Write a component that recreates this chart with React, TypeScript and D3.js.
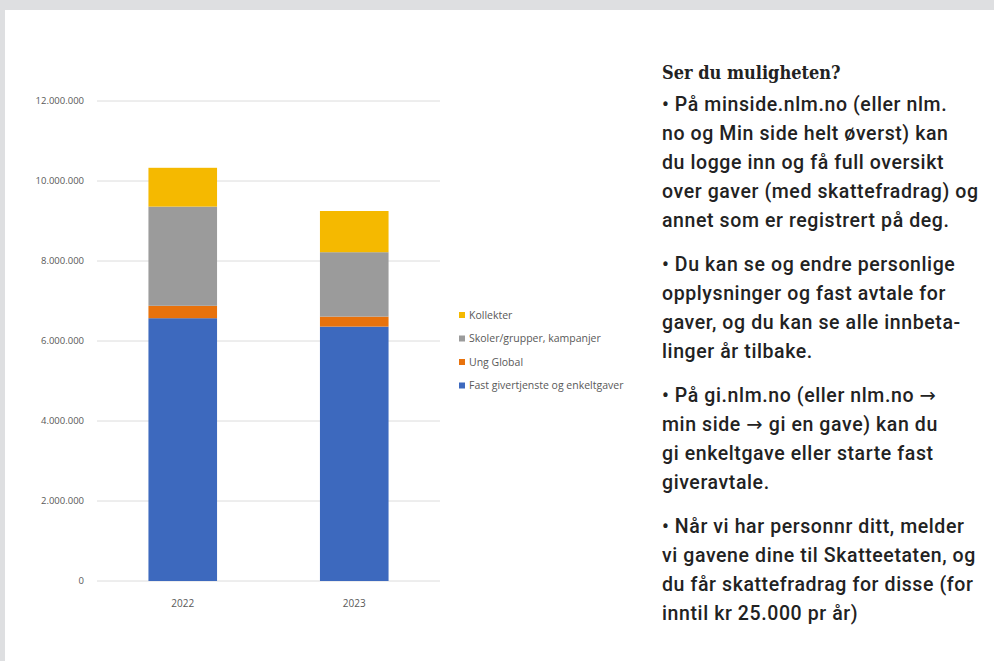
import React from 'react';
import * as d3 from 'd3';

// data (NOK)
const years = ['2022', '2023'];
const series = ['Fast givertjenste og enkeltgaver', 'Ung Global', 'Skoler/grupper, kampanjer', 'Kollekter'];
const fastGaver = [6570000, 6360000];
const ungGlobal = [310000, 250000];
const skoler = [2480000, 1610000];
const kollekter = [970000, 1030000];
const yTicks = [0, 2000000, 4000000, 6000000, 8000000, 10000000, 12000000];
const colors = ['#3D69BE', '#E8720C', '#9B9B9B', '#F5B900'];

const title = 'Ser du muligheten?';
const paragraphs = [
  ['• På minside.nlm.no (eller nlm.', 'no og Min side helt øverst) kan', 'du logge inn og få full oversikt', 'over gaver (med skattefradrag) og', 'annet som er registrert på deg.'],
  ['• Du kan se og endre personlige', 'opplysninger og fast avtale for', 'gaver, og du kan se alle innbeta-', 'linger år tilbake.'],
  ['• På gi.nlm.no (eller nlm.no →', 'min side → gi en gave) kan du', 'gi enkeltgave eller starte fast', 'giveravtale.'],
  ['• Når vi har personnr ditt, melder', 'vi gavene dine til Skatteetaten, og', 'du får skattefradrag for disse (for', 'inntil kr 25.000 pr år)'],
];

const W = 994;
const H = 661;
const plot = { left: 97, right: 440, top: 101, bottom: 581 };

// split a line so arrows get a font with a full-size arrow glyph
function renderLine(t: string) {
  const parts = t.split('→');
  const out: React.ReactNode[] = [];
  parts.forEach((p, i) => {
    out.push(<tspan key={'p' + i}>{p}</tspan>);
    if (i < parts.length - 1) {
      out.push(
        <tspan key={'a' + i} fontFamily="'DejaVu Sans', sans-serif" fontWeight="normal">
          →
        </tspan>
      );
    }
  });
  return out;
}

export default function App() {
  const rows = years.map((y, i) => ({
    year: y,
    [series[0]]: fastGaver[i],
    [series[1]]: ungGlobal[i],
    [series[2]]: skoler[i],
    [series[3]]: kollekter[i],
  }));
  const stacked = d3.stack<any>().keys(series)(rows);

  const x = d3.scaleBand().domain(years).range([plot.left, plot.right]).paddingInner(0.6).paddingOuter(0.3);
  const y = d3.scaleLinear().domain([0, 12000000]).range([plot.bottom, plot.top]);
  const fmt = (v: number) => d3.format(',')(v).replace(/,/g, '.');

  const axisFont = "'Open Sans', 'Liberation Sans', sans-serif";
  const bodyFont = "Roboto, 'Noto Sans', sans-serif";

  // text block line positions
  let baseY = 111;
  const textLines: { t: string; y: number }[] = [];
  paragraphs.forEach(p => {
    p.forEach(line => {
      textLines.push({ t: line, y: baseY });
      baseY += 29;
    });
    baseY += 15;
  });

  return (
    <div style={{ position: 'fixed', left: 0, top: 0, width: W, height: H, background: '#fff' }}>
      <svg width={W} height={H} style={{ display: 'block' }}>
        <rect x={0} y={0} width={W} height={H} fill="#fff" />
        <rect x={0} y={0} width={W} height={10} fill="#DEDFE1" />
        <rect x={0} y={0} width={5} height={H} fill="#DEDFE1" />

        {/* gridlines + y labels */}
        {yTicks.map(t => (
          <g key={t}>
            <line x1={plot.left} x2={plot.right} y1={y(t)} y2={y(t)} stroke="#DCDCDC" strokeWidth={1} />
            <text x={84} y={y(t)} dy="0.35em" textAnchor="end" fontSize={9.5} fill="#595959" fontFamily={axisFont}>
              {fmt(t)}
            </text>
          </g>
        ))}

        {/* bars */}
        {stacked.map((s, si) => (
          <g key={s.key} fill={colors[si]}>
            {s.map((d, i) => (
              <rect key={i} x={x(years[i])} width={x.bandwidth()} y={y(d[1])} height={y(d[0]) - y(d[1])} />
            ))}
          </g>
        ))}

        {/* x labels */}
        {years.map(yr => (
          <text key={yr} x={(x(yr) as number) + x.bandwidth() / 2} y={603} dy="0.35em" textAnchor="middle" fontSize={10} fill="#595959" fontFamily={axisFont}>
            {yr}
          </text>
        ))}

        {/* legend, top item = last series */}
        {series.slice().reverse().map((name, i) => {
          const ci = series.length - 1 - i;
          const ly = 315 + i * 23.5;
          return (
            <g key={name}>
              <rect x={459} y={ly - 3} width={6} height={6} fill={colors[ci]} />
              <text x={469} y={ly} dy="0.35em" fontSize={10.5} fill="#595959" fontFamily={axisFont}>
                {name}
              </text>
            </g>
          );
        })}

        {/* text panel */}
        <text x={662} y={79} fontSize={18} fontWeight="bold" fill="#222" fontFamily="'DejaVu Serif Condensed', 'DejaVu Serif', serif" style={{ fontStretch: 'condensed' }}>
          {title}
        </text>
        {textLines.map((l, i) => (
          <text key={i} x={662} y={l.y} fontSize={19.5} fontWeight={500} letterSpacing={0.6} fill="#222" fontFamily={bodyFont}>
            {renderLine(l.t)}
          </text>
        ))}
      </svg>
    </div>
  );
}
